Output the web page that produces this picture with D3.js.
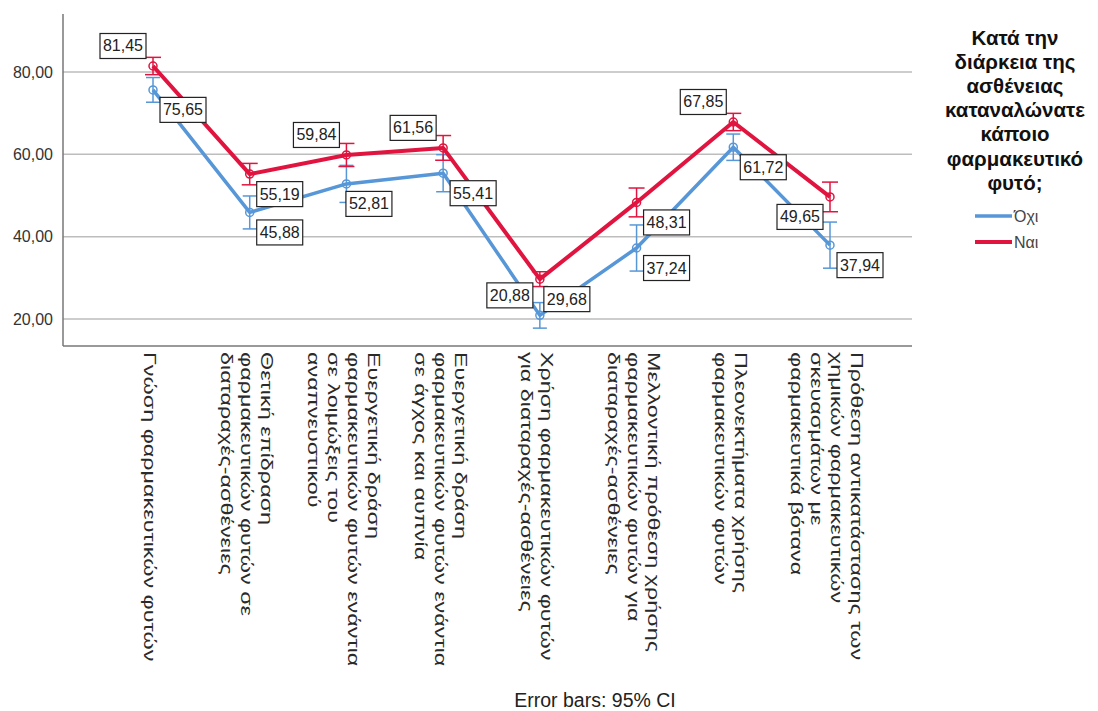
<!DOCTYPE html>
<html>
<head>
<meta charset="utf-8">
<script src="https://cdnjs.cloudflare.com/ajax/libs/d3/7.8.5/d3.min.js"></script>
<style>
  html, body { margin: 0; padding: 0; background: #ffffff; }
  svg { display: block; font-family: "Liberation Sans", Arial, sans-serif; }
</style>
</head>
<body>
<svg id="chart" width="1098" height="711"></svg>
<script>
// ---- data -------------------------------------------------------------
const categories = [
  "Γνώση φαρμακευτικών φυτών",
  "Θετική επίδραση\nφαρμακευτικών φυτών σε\nδιαταραχές-ασθένειες",
  "Ευεργετική δράση\nφαρμακευτικών φυτών ενάντια\nσε λοιμώξεις του\nαναπνευστικού",
  "Ευεργετική δράση\nφαρμακευτικών φυτών ενάντια\nσε άγχος και αυπνία",
  "Χρήση φαρμακευτικών φυτών\nγια διαταραχές-ασθένειες",
  "Μελλοντική πρόθεση χρήσης\nφαρμακευτικών φυτών για\nδιαταραχές-ασθένειες",
  "Πλεονεκτήματα χρήσης\nφαρμακευτικών φυτών",
  "Πρόθεση αντικατάστασης των\nχημικών φαρμακευτικών\nσκευασμάτων με\nφαρμακευτικά βότανα"
];
const seriesNames = ["Όχι", "Ναι"];
const meanNo  = [75.65, 45.88, 52.81, 55.41, 20.88, 37.24, 61.72, 37.94];
const meanYes = [81.45, 55.19, 59.84, 61.56, 29.68, 48.31, 67.85, 49.65];
// half-width of the 95% confidence interval
const ciNo  = [3.0, 4.0, 4.5, 4.5, 3.1, 5.6, 3.2, 5.6];
const ciYes = [2.1, 2.6, 2.8, 3.0, 1.8, 3.5, 2.1, 3.6];
const yTicks = [20, 40, 60, 80];
const legendTitle = ["Κατά την", "διάρκεια της", "ασθένειας", "καταναλώνατε", "κάποιο", "φαρμακευτικό", "φυτό;"];
const footnote = "Error bars: 95% CI";

// ---- layout -----------------------------------------------------------
const plot = { left: 63, right: 912, top: 14, bottom: 346 };
const colors = { "Όχι": "#5797d8", "Ναι": "#e0143f" };
// where each value box sits relative to its point: [dx sign, dy sign]
const placeNo  = [[1, 1], [1, 1], [0.75, 1], [1, 1], [-1, -1], [1, 1], [1, 1], [1, 1]];
const placeYes = [[-1, -1], [1, 1], [-1, -1], [-1, -1], [0.9, 1], [1, 1], [-1, -1], [-1, 1]];

const svg = d3.select("#chart");
const fmt = d3.formatLocale({ decimal: ",", thousands: ".", grouping: [3], currency: ["", "€"] }).format(".2f");

const x = d3.scalePoint().domain(d3.range(categories.length)).range([153, 830]);
const y = d3.scaleLinear().domain([13.44, 94.08]).range([plot.bottom, plot.top]);

// gridlines
svg.append("g")
  .selectAll("line").data(yTicks).join("line")
  .attr("x1", plot.left).attr("x2", plot.right)
  .attr("y1", d => y(d)).attr("y2", d => y(d))
  .attr("stroke", "#bdbdbd").attr("stroke-width", 1.5);

// y axis
const yAxis = svg.append("g")
  .attr("transform", `translate(${plot.left},0)`)
  .call(d3.axisLeft(y).tickValues(yTicks).tickFormat(fmt).tickSize(0).tickPadding(10));
yAxis.select(".domain").remove();
yAxis.selectAll("text").attr("font-size", 16).attr("fill", "#333")
  .attr("font-family", "'Liberation Sans', Arial, sans-serif");

svg.append("line")
  .attr("x1", plot.left).attr("x2", plot.left)
  .attr("y1", plot.top).attr("y2", plot.bottom)
  .attr("stroke", "#777").attr("stroke-width", 1.5);

// x axis
const xAxis = svg.append("g")
  .attr("transform", `translate(0,${plot.bottom})`)
  .call(d3.axisBottom(x).tickSize(0).tickFormat(""));
xAxis.select(".domain").attr("stroke", "#777").attr("stroke-width", 1.5)
  .attr("d", `M${plot.left},0H${plot.right}`);

// rotated multi-line category labels
const lh = 20;
const catG = svg.append("g");
categories.forEach((c, i) => {
  const lines = c.split("\n");
  const n = lines.length;
  lines.forEach((ln, j) => {
    const cx = x(i) - 3 + ((n - 1) / 2 - j) * lh;
    catG.append("text")
      .attr("transform", `translate(${cx},352) rotate(90) scale(1.46,1)`)
      .attr("dominant-baseline", "central")
      .attr("font-size", 16)
      .attr("fill", "#2a2a2a")
      .text(ln);
  });
});

const series = [
  { name: "Όχι", mean: meanNo, ci: ciNo, place: placeNo, width: 3.5, cap: 14 },
  { name: "Ναι", mean: meanYes, ci: ciYes, place: placeYes, width: 4, cap: 16 }
];

// error bars
series.forEach(s => {
  const g = svg.append("g").attr("stroke", colors[s.name]).attr("stroke-width", 1.5);
  s.mean.forEach((m, i) => {
    const lo = y(m - s.ci[i]), hi = y(m + s.ci[i]), cx = x(i);
    g.append("line").attr("x1", cx).attr("x2", cx).attr("y1", lo).attr("y2", hi);
    g.append("line").attr("x1", cx - s.cap / 2).attr("x2", cx + s.cap / 2).attr("y1", lo).attr("y2", lo);
    g.append("line").attr("x1", cx - s.cap / 2).attr("x2", cx + s.cap / 2).attr("y1", hi).attr("y2", hi);
  });
});

// mean lines and markers
const line = d3.line().x((d, i) => x(i)).y(d => y(d));
series.forEach(s => {
  svg.append("path").datum(s.mean)
    .attr("d", line).attr("fill", "none")
    .attr("stroke", colors[s.name]).attr("stroke-width", s.width)
    .attr("stroke-linejoin", "round");
  svg.append("g").selectAll("circle").data(s.mean).join("circle")
    .attr("cx", (d, i) => x(i)).attr("cy", d => y(d)).attr("r", 4)
    .attr("fill", "none").attr("stroke", colors[s.name]).attr("stroke-width", 1.5);
});

// value boxes
series.forEach(s => {
  const g = svg.append("g");
  s.mean.forEach((m, i) => {
    const [sx, sy] = s.place[i];
    const cx = x(i) + sx * 30, cy = y(m) + sy * 20;
    g.append("rect")
      .attr("x", cx - 23).attr("y", cy - 12.5).attr("width", 46).attr("height", 25)
      .attr("fill", "#fff").attr("stroke", "#222").attr("stroke-width", 1.2);
    g.append("text")
      .attr("x", cx).attr("y", cy).attr("text-anchor", "middle")
      .attr("dominant-baseline", "central").attr("font-size", 16).attr("fill", "#222")
      .text(fmt(m));
  });
});

// legend
const lg = svg.append("g");
legendTitle.forEach((t, i) => {
  lg.append("text")
    .attr("x", 1015).attr("y", 37 + i * 24.2)
    .attr("text-anchor", "middle").attr("dominant-baseline", "central")
    .attr("font-size", 20.5).attr("font-weight", "bold").attr("fill", "#111")
    .text(t);
});
seriesNames.forEach((nm, i) => {
  const yy = 216 + i * 26;
  lg.append("line").attr("x1", 975).attr("x2", 1012).attr("y1", yy).attr("y2", yy)
    .attr("stroke", colors[nm]).attr("stroke-width", i ? 4 : 3.5);
  lg.append("text").attr("x", 1014).attr("y", yy)
    .attr("dominant-baseline", "central").attr("font-size", 16).attr("fill", "#444")
    .text(nm);
});

// footnote
svg.append("text")
  .attr("x", 595).attr("y", 700)
  .attr("text-anchor", "middle").attr("dominant-baseline", "central")
  .attr("font-size", 19.5).attr("fill", "#222")
  .text(footnote);
</script>
</body>
</html>
